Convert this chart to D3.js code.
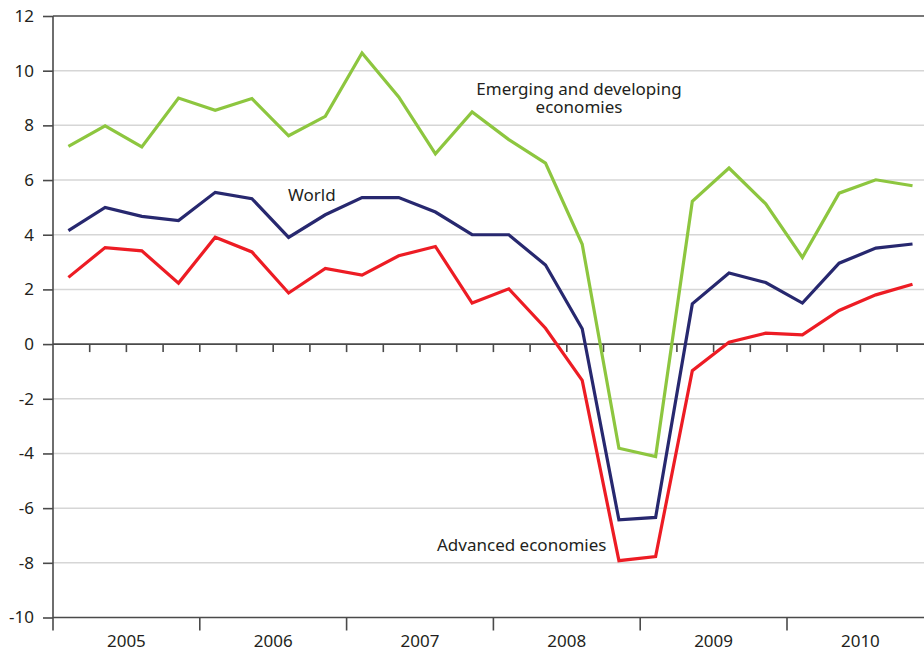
<!DOCTYPE html>
<html>
<head>
  <meta charset="utf-8">
  <script src="https://d3js.org/d3.v7.min.js"></script>
  <style>
  body {
    margin: 0;
    background: #fff;
  }

  text {
    font-family: "Noto Sans", "Open Sans", sans-serif;
    font-size: 17px;
    fill: #231f20;
  }

  .grid line {
    stroke: #d6d6d6;
    stroke-width: 1.5px;
  }

  .frame {
    stroke: #4a4a4a;
    stroke-width: 1.6px;
    fill: none;
  }

  .series {
    fill: none;
    stroke-width: 3.2px;
    stroke-linejoin: miter;
  }
  </style>
</head>

<body>
  <script type="text/javascript">
  // quarterly data, 2005 Q1 .. 2010 Q4
  var years = ['2005', '2006', '2007', '2008', '2009', '2010'];
  var yTicks = [12, 10, 8, 6, 4, 2, 0, -2, -4, -6, -8, -10];

  var emerging = [7.23, 7.98, 7.21, 9.0, 8.55, 8.98, 7.62, 8.33,
                  10.65, 9.04, 6.96, 8.49, 7.48, 6.62, 3.65, -3.81,
                  -4.11, 5.22, 6.44, 5.13, 3.17, 5.52, 6.01, 5.79];
  var world = [4.15, 5.0, 4.67, 4.52, 5.55, 5.32, 3.90, 4.73,
               5.36, 5.36, 4.83, 4.0, 4.0, 2.89, 0.56, -6.43,
               -6.34, 1.47, 2.6, 2.25, 1.5, 2.96, 3.51, 3.66];
  var advanced = [2.44, 3.53, 3.41, 2.23, 3.91, 3.37, 1.87, 2.77,
                  2.52, 3.23, 3.57, 1.5, 2.02, 0.58, -1.33, -7.92,
                  -7.77, -0.97, 0.07, 0.40, 0.34, 1.23, 1.8, 2.19];

  var width = 924,
      height = 652,
      left = 53,
      quarter = 36.7,
      pointOffset = 0.42;

  var svg = d3.select('body')
    .append('svg')
      .attr('width', width)
      .attr('height', height);

  // x: quarters since start of 2005
  var x = d3.scaleLinear()
    .domain([0, 24])
    .range([left, left + 24 * quarter]);

  var y = d3.scaleLinear()
    .domain([-10, 12])
    .range([617.5, 16]);

  // light gridlines
  svg.append('g')
    .attr('class', 'grid')
    .selectAll('line')
    .data(yTicks.filter(function(d) { return d != 12 && d != 0 && d != -10; }))
    .enter().append('line')
      .attr('x1', left)
      .attr('x2', width)
      .attr('y1', function(d) { return y(d); })
      .attr('y2', function(d) { return y(d); });

  // dark lines: top, zero, bottom
  svg.append('g')
    .selectAll('line')
    .data([12, 0, -10])
    .enter().append('line')
      .attr('class', 'frame')
      .attr('x1', left)
      .attr('x2', width)
      .attr('y1', function(d) { return y(d); })
      .attr('y2', function(d) { return y(d); });

  // y axis (plain hyphen for negatives, like the original)
  var yAxis = d3.axisLeft(y)
    .tickValues(yTicks)
    .tickSize(10)
    .tickPadding(9)
    .tickFormat(function(d) { return String(d); });

  var yg = svg.append('g')
    .attr('transform', 'translate(' + left + ',0)')
    .call(yAxis);
  yg.select('.domain').remove();
  yg.selectAll('.tick line').attr('class', 'frame');
  yg.selectAll('.tick text')
    .attr('fill', '#231f20')
    .style('font-size', '17px')
    .style('font-family', '"Noto Sans", sans-serif');

  svg.append('line')
    .attr('class', 'frame')
    .attr('x1', left).attr('x2', left)
    .attr('y1', y(12)).attr('y2', y(-10) + 13);

  // quarter ticks on the zero line
  svg.append('g')
    .selectAll('line')
    .data(d3.range(1, 24))
    .enter().append('line')
      .attr('class', 'frame')
      .attr('x1', function(d) { return x(d); })
      .attr('x2', function(d) { return x(d); })
      .attr('y1', y(0))
      .attr('y2', y(0) + 8);

  // year ticks at the bottom
  svg.append('g')
    .selectAll('line')
    .data(d3.range(1, 7))
    .enter().append('line')
      .attr('class', 'frame')
      .attr('x1', function(d) { return x(d * 4); })
      .attr('x2', function(d) { return x(d * 4); })
      .attr('y1', y(-10))
      .attr('y2', y(-10) + 13);

  svg.append('g')
    .selectAll('text')
    .data(years)
    .enter().append('text')
      .attr('x', function(d, i) { return x(i * 4 + 2); })
      .attr('y', 647)
      .attr('text-anchor', 'middle')
      .text(function(d) { return d; });

  // series lines
  var line = d3.line()
    .x(function(d, i) { return x(i + pointOffset); })
    .y(function(d) { return y(d); });

  var series = [
    {values: emerging, color: '#8dc63f'},
    {values: world, color: '#27286f'},
    {values: advanced, color: '#ed1c24'}
  ];

  svg.append('g')
    .selectAll('path')
    .data(series)
    .enter().append('path')
      .attr('class', 'series')
      .attr('stroke', function(d) { return d.color; })
      .attr('d', function(d) { return line(d.values); });

  // labels
  svg.append('text')
    .attr('x', 288)
    .attr('y', 201)
    .text('World');

  svg.append('text')
    .attr('x', 579)
    .attr('y', 95)
    .attr('text-anchor', 'middle')
    .text('Emerging and developing');

  svg.append('text')
    .attr('x', 579)
    .attr('y', 113)
    .attr('text-anchor', 'middle')
    .text('economies');

  svg.append('text')
    .attr('x', 437)
    .attr('y', 551)
    .text('Advanced economies');
  </script>
</body>
</html>
